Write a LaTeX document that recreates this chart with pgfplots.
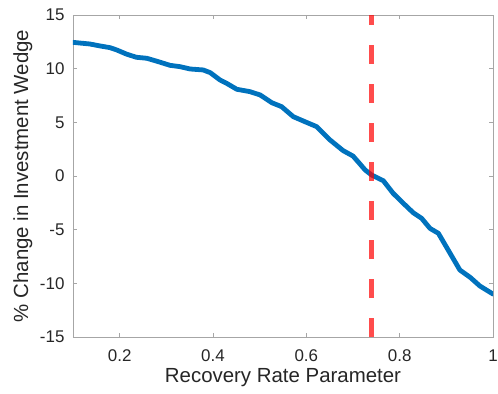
\documentclass[border=0pt]{standalone}
\usepackage{fontspec}
\setmainfont{Liberation Sans}
\usepackage{pgfplots}
\pgfplotsset{compat=1.18}
\definecolor{mblue}{RGB}{0,114,189}
\definecolor{axgray}{RGB}{166,166,166}
\definecolor{txt}{RGB}{38,38,38}
\begin{document}
\begin{tikzpicture}
\useasboundingbox (-73bp,-57bp) rectangle (425bp,337bp);
\begin{axis}[
  at={(0,0)}, anchor=south west,
  scale only axis, width=420bp, height=322bp,
  xmin=0.1, xmax=1, ymin=-15, ymax=15,
  xtick={0.2,0.4,0.6,0.8,1}, xticklabels={0.2,0.4,0.6,0.8,1},
  ytick={-15,-10,-5,0,5,10,15}, yticklabels={-15,-10,-5,0,5,10,15},
  axis line style={axgray, line width=0.9bp},
  tick style={axgray, line width=0.9bp},
  major tick length=4.3bp,
  tick align=inside,
  /pgf/number format/assume math mode=true,
  tick label style={font=\fontsize{17}{18}\selectfont, text=txt},
  xticklabel style={yshift=-9bp},
  yticklabel style={xshift=-5bp},
  every axis x label/.style={at={(axis description cs:0.5,-0.1398)}, anchor=base, font=\fontsize{20.5}{22}\selectfont, text=txt},
  every axis y label/.style={at={(axis description cs:-0.1071,0.5)}, rotate=90, anchor=base, font=\fontsize{20.5}{22}\selectfont, text=txt},
  xlabel={Recovery Rate Parameter},
  ylabel={\% Change in Investment Wedge},
]
\addplot[mblue, line width=4.8bp, line join=round, line cap=round] coordinates {
(0.100,12.45) (0.136,12.30) (0.160,12.10) (0.179,11.96) (0.194,11.74)
(0.215,11.35) (0.236,11.06) (0.258,10.97) (0.283,10.65) (0.308,10.31)
(0.329,10.19) (0.351,9.97) (0.379,9.88) (0.394,9.63) (0.415,8.95)
(0.429,8.64) (0.451,8.08) (0.479,7.86) (0.501,7.55) (0.526,6.83)
(0.547,6.46) (0.572,5.53) (0.597,5.06) (0.622,4.60) (0.651,3.35)
(0.679,2.36) (0.700,1.86) (0.715,1.12) (0.726,0.56) (0.740,0.09)
(0.765,-0.44) (0.786,-1.61) (0.808,-2.55) (0.829,-3.42) (0.847,-3.94)
(0.865,-4.88) (0.883,-5.34) (0.904,-6.90) (0.929,-8.76) (0.951,-9.44)
(0.972,-10.25) (1.000,-11.00)
};
\addplot[red, opacity=0.7, line width=4.6bp, dash pattern=on 19bp off 20bp] coordinates {(0.74,-15) (0.74,15)};
\end{axis}
\end{tikzpicture}
\end{document}
